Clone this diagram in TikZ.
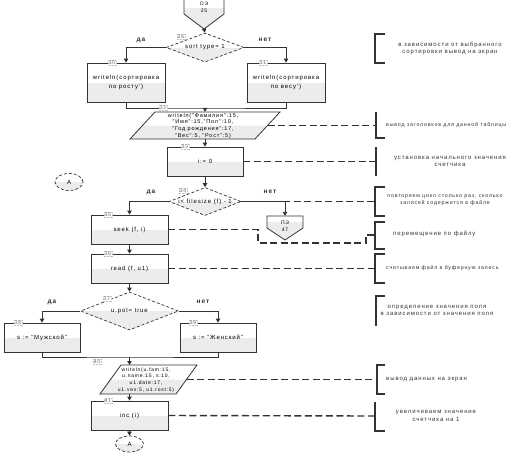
\documentclass[tikz,border=0pt]{standalone}
\usepackage{fontspec}
\setmainfont{Liberation Sans}[LetterSpace=15]
\usetikzlibrary{shapes.geometric,arrows.meta}
\definecolor{ln}{HTML}{333333}
\definecolor{sh}{HTML}{ECECEC}
\newcommand\ftxt{\fontsize{6}{7.5}\selectfont}
\newcommand\fsml{\fontsize{5}{6.6}\selectfont}
\newcommand\fpar{\fontsize{5.5}{6.6}\selectfont}
\newcommand\fcmt{\fontsize{6}{7.5}\selectfont}
\newcommand\fcms{\fontsize{5.3}{7}\selectfont}
\begin{document}
\begin{tikzpicture}[x=1pt,y=-1pt,
  flow/.style={draw=ln, line width=0.8pt},
  arr/.style={flow, -{Triangle[length=4pt,width=4.5pt]}},
  cmt/.style={draw=ln, line width=1.4pt, dash pattern=on 7pt off 3.5pt},
  brk/.style={draw=ln, line width=1.8pt},
  lowfill/.style={path picture={\fill[sh] (path picture bounding box.west) rectangle (path picture bounding box.south east);}},
  proc/.style={rectangle, draw=ln, line width=0.8pt, inner sep=1pt, align=center, font=\ftxt, lowfill},
  dec/.style={diamond, draw=ln, line width=0.7pt, dash pattern=on 3pt off 2pt, inner sep=0pt, lowfill},
  conn/.style={ellipse, draw=ln, line width=0.7pt, dash pattern=on 3pt off 2pt, inner sep=0pt, minimum width=28pt, minimum height=17pt, lowfill, font=\ftxt},
  io/.style={draw=ln, line width=0.8pt},
  steplab/.style={font=\fsml, text=black!60, fill=white, draw=black!25, densely dotted, inner sep=0.8pt},
  yn/.style={font=\fontsize{6.5}{7}\selectfont\bfseries, text=ln},
  ctext/.style={font=\fcmt, align=center, text=ln, inner sep=0pt},
  ptext/.style={font=\fsml, align=center, inner sep=0pt}
]
\useasboundingbox (0,0) rectangle (510,458);
\fill[white] (0,0) rectangle (510,458);

% ---- top off-page connector
\fill[sh] (184,8) -- (224,8) -- (224,14) -- (204,29) -- (184,14) -- cycle;
\draw[io] (184,-2) -- (184,14) -- (204,29) -- (224,14) -- (224,-2);
\coordinate (top) at (204,29);
\node[ptext] (toptxt) at (204,7) {ОЭ\\25};

% ---- decision 26
\node[dec, minimum width=78pt, minimum height=29pt, label={[ptext, font=\ftxt]center:sort type= 1}] (d26) at (205,47.5) {};
\node[steplab] (l26) at (181,37) {26};
\draw[arr] (top) -- (d26.north);
\node[yn] (yes26) at (141,40) {да};
\node[yn] (no26) at (265,40) {нет};

\node[proc, minimum width=78pt, minimum height=39pt] (b30) at (126,82.5) {writeln(сортировка\\[2pt]по росту')};
\node[steplab] (l30) at (112,63) {30};
\node[proc, minimum width=78pt, minimum height=39pt] (b31) at (286,82.5) {writeln(сортировка\\[2pt]по весу')};
\node[steplab] (l31) at (263,63) {31};
\draw[arr] (d26.west) -| (b30.north);
\draw[arr] (d26.east) -| (b31.north);

\coordinate (m1) at (205,108);
\draw[flow] (b30.south) |- (m1) -| (b31.south);

% ---- io 32
\fill[sh] (142.5,125.5) -- (267.5,125.5) -- (255,139) -- (130,139) -- cycle;
\draw[io] (155,112) -- (280,112) -- (255,139) -- (130,139) -- cycle;
\node[minimum width=125pt, minimum height=27pt, inner sep=0pt] (p32) at (205,125.5) {};
\node[ptext, font=\fpar] (p32t) at (203,125.8) {writeln("Фамилия":15,\\"Имя":15,"Пол":10,\\"Год рождения":17,\\"Вес":5, "Рост":5)};
\node[steplab] (l32) at (163,108) {32};
\draw[arr] (m1) -- (p32.north);

\node[proc, minimum width=76pt, minimum height=29pt] (b33) at (205,161.5) {i:= 0};
\node[steplab] (l33) at (185,147) {33};
\draw[arr] (p32.south) -- (b33.north);

% connector A (left)
\node[conn] (eA1) at (69,182) {A};

% ---- decision 34
\node[dec, minimum width=72pt, minimum height=28pt, label={[ptext, font=\ftxt]center:i< filesize (f) - 1}] (d34) at (205,201.5) {};
\node[steplab] (l34) at (183,191) {34};
\draw[arr] (b33.south) -- (d34.north);
\node[yn] (yes34) at (151,192) {да};
\node[yn] (no34) at (270,192) {нет};

% right off-page connector
\fill[sh] (267,222) -- (303,222) -- (303,228) -- (285,240) -- (267,228) -- cycle;
\draw[io] (267,216) -- (303,216) -- (303,228) -- (285,240) -- (267,228) -- cycle;
\node[minimum width=36pt, minimum height=12pt, inner sep=0pt] (pe) at (285,222) {};
\node[ptext] (petxt) at (285,226) {ПЭ\\47};

\node[proc, minimum width=77pt, minimum height=29pt] (b35) at (129.5,229.5) {seek (f, i)};
\node[steplab] (l35) at (108,215) {35};
\draw[arr] (d34.west) -| (b35.north);
\draw[cmt] (d34.east) -- (375,201.5);
\draw[arr] (d34.east) -| (pe.north);

\node[proc, minimum width=77pt, minimum height=29pt] (b36) at (129.5,268.5) {read (f, u1)};
\node[steplab] (l36) at (108,254) {36};
\draw[arr] (b35.south) -- (b36.north);

% ---- decision 37
\node[dec, minimum width=98pt, minimum height=38pt, label={[ptext, font=\ftxt]center:u.pol= true}] (d37) at (129.5,311) {};
\node[steplab] (l37) at (107,299) {37};
\draw[arr] (b36.south) -- (d37.north);
\node[yn] (yes37) at (52,302) {да};
\node[yn] (no37) at (203,302) {нет};

\node[proc, minimum width=76pt, minimum height=29pt] (b38) at (42,337.5) {s := "Мужской"};
\node[steplab] (l38) at (18,323) {38};
\node[proc, minimum width=76pt, minimum height=29pt] (b39) at (218,337.5) {s := "Женский"};
\node[steplab] (l39) at (193,323) {39};
\draw[arr] (d37.west) -| (b38.north);
\draw[arr] (d37.east) -| (b39.north);

\coordinate (m2) at (129.5,357);
\draw[flow] (b38.south) |- (m2) -| (b39.south);

% ---- io 40
\fill[sh] (110.5,379.5) -- (186.5,379.5) -- (176,394) -- (100,394) -- cycle;
\draw[io] (121,365) -- (197,365) -- (176,394) -- (100,394) -- cycle;
\coordinate (p40n) at (129.5,365);
\coordinate (p40s) at (129.5,394);
\coordinate (p40e) at (186.5,379.5);
\node[ptext] (p40t) at (146,379.8) {writeln(u.fam:15,\\u.name:15, s:10,\\u1.date:17,\\u1.ves:5, u1.rost:5)};
\node[steplab] (l40) at (97,362) {40};
\draw[arr] (m2) -- (p40n);

\node[proc, minimum width=77pt, minimum height=29pt] (b41) at (129.5,415.5) {inc (i)};
\node[steplab] (l41) at (108,401) {41};
\draw[arr] (p40s) -- (b41.north);

\node[conn, minimum height=16pt] (eA2) at (129.5,444) {A};
\draw[arr] (b41.south) -- (eA2.north);

% ---- comment brackets
\draw[brk] (385,34) -- (375,34) -- (375,63) -- (385,63);
\node[ctext] (c1) at (450,48.5) {в зависимости от выбранного\\сортировки вывод на экран};

\draw[brk] (376,112) -- (376,138) -- (385,138);
\coordinate (k2) at (376,125.5);
\draw[cmt] (p32.east) -- (k2);
\node[ctext, font=\fcms, anchor=west] (c2) at (386,125.5) {вывод заголовков для данной таблицы};

\draw[brk] (376,147) -- (376,176);
\coordinate (k3) at (376,161.5);
\draw[cmt] (b33.east) -- (k3);
\node[ctext] (c3) at (450,161.5) {установка начального значения\\счетчика};

\draw[brk] (385,187) -- (375,187) -- (375,216) -- (385,216);
\node[ctext, font=\fcms] (c4) at (445,200) {повторяем цикл столько раз, сколько\\записей содержится в файле};

\draw[brk] (385,222) -- (375,222) -- (375,249) -- (385,249);
\coordinate (k5) at (375,235);
\draw[cmt] (b35.east) -- (258,229.5) -- (258,243) -- (366,243) -- (366,235) -- (k5);
\node[ctext, anchor=west] (c5) at (393,234) {перемещение по файлу};

\draw[brk] (385,254) -- (375,254) -- (375,283) -- (385,283);
\coordinate (k6) at (375,268.5);
\draw[cmt] (b36.east) -- (k6);
\node[ctext, font=\fcms, anchor=west] (c6) at (386,268.5) {считываем файл в буферную запись};

\draw[brk] (385,296) -- (376,296) -- (376,326);
\node[ctext] (c7) at (437,310.5) {определение значения поля\\в зависимости от значения поля};

\draw[brk] (385,365) -- (377,365) -- (377,394) -- (385,394);
\coordinate (k8) at (377,379.5);
\draw[cmt] (p40e) -- (k8);
\node[ctext, anchor=west] (c8) at (386,379.5) {вывод данных на экран};

\draw[brk] (375,402) -- (375,431) -- (385,431);
\coordinate (k9) at (375,416);
\draw[cmt] (b41.east) -- (k9);
\node[ctext] (c9) at (436,416) {увеличиваем значение\\счетчика на 1};
\end{tikzpicture}
\end{document}
